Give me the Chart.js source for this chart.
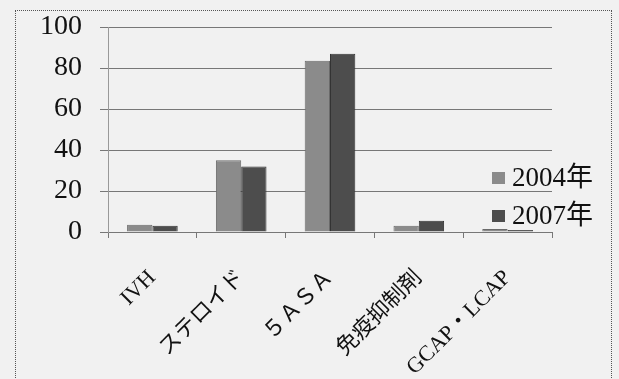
<!DOCTYPE html>
<html>
<head>
<meta charset="utf-8">
<script src="https://cdn.jsdelivr.net/npm/chart.js@4.4.0/dist/chart.umd.min.js"></script>
<style>
  html, body { margin: 0; padding: 0; background: #f1f1f1; }
  #wrap { position: relative; width: 619px; height: 379px; }
  #frame { position: absolute; left: 15px; top: 10px; width: 597px; height: 380px;
           border: 1px dotted #555; pointer-events: none; box-sizing: border-box; }
</style>
</head>
<body>
<div id="wrap">
  <canvas id="c" width="619" height="379"></canvas>
  <div id="frame"></div>
</div>
<script>
const categories = ["IVH", "ステロイド", "５ＡＳＡ", "免疫抑制剤", "GCAP・LCAP"];
const seriesNames = ["2004年", "2007年"];
const values2004 = [3.5, 35, 83.5, 3, 1.5];
const values2007 = [3, 32, 87, 5.5, 1];
const yTicks = [0, 20, 40, 60, 80, 100];

const serif = '"Liberation Serif", "DejaVu Serif", "Noto Sans CJK JP", serif';
const colors = ["#8b8b8b", "#4d4d4d"];

const legendPlugin = {
  id: 'insideLegend',
  afterDraw(chart) {
    const ctx = chart.ctx;
    ctx.save();
    const rows = [178, 216];
    chart.data.datasets.forEach((ds, i) => {
      ctx.fillStyle = ds.backgroundColor;
      ctx.fillRect(492, rows[i] - 6, 13, 12);
      ctx.fillStyle = '#111';
      ctx.font = '27px ' + serif;
      ctx.textBaseline = 'middle';
      ctx.textAlign = 'left';
      ctx.fillText(ds.label, 512, rows[i] + 1);
    });
    ctx.restore();
  }
};

new Chart(document.getElementById('c'), {
  type: 'bar',
  data: {
    labels: categories,
    datasets: [
      { label: seriesNames[0], data: values2004, backgroundColor: colors[0],
        borderColor: '#6a6a6a', borderWidth: 1, categoryPercentage: 0.57, barPercentage: 1.0 },
      { label: seriesNames[1], data: values2007, backgroundColor: colors[1],
        borderColor: '#333', borderWidth: 1, categoryPercentage: 0.57, barPercentage: 1.0 }
    ]
  },
  options: {
    responsive: false,
    animation: false,
    layout: { padding: { left: 0, right: 67, top: 27, bottom: 0 } },
    plugins: { legend: { display: false }, tooltip: { enabled: false } },
    scales: {
      x: {
        grid: { display: true, drawOnChartArea: false, tickLength: 6, color: '#777', offset: true },
        border: { display: true, color: '#777', width: 1 },
        ticks: {
          color: '#111', font: { family: serif, size: 22 },
          maxRotation: 45, minRotation: 45, padding: 27, autoSkip: false
        },
        afterFit(scale) { scale.height = 379 - 232 - 0; }
      },
      y: {
        min: 0, max: 100,
        afterBuildTicks(scale) { scale.ticks = yTicks.map(v => ({ value: v })); },
        grid: { color: '#777', tickLength: 8, lineWidth: 1 },
        border: { display: true, color: '#999', width: 1 },
        ticks: { color: '#111', font: { family: serif, size: 28 }, padding: 18 },
        afterFit(scale) { scale.width = 108; scale.paddingTop = 0; scale.paddingBottom = 0; }
      }
    }
  },
  plugins: [legendPlugin]
});
</script>
</body>
</html>
